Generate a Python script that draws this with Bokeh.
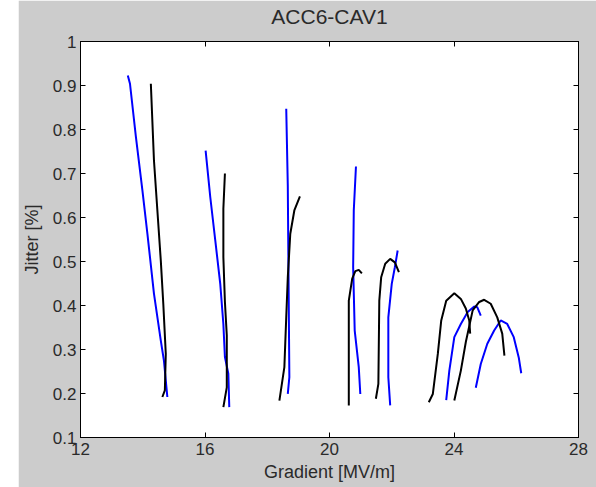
from bokeh.plotting import figure
from bokeh.models import Range1d, LinearAxis, FixedTicker, CustomLabelingPolicy, Spacer
from bokeh.layouts import row
from bokeh.embed import file_html
from bokeh.resources import INLINE

# ---- data ----
c1_blue_x = [13.52, 13.59, 13.78, 13.99, 14.15, 14.36, 14.58, 14.68, 14.79]
c1_blue_y = [0.923, 0.904, 0.783, 0.661, 0.563, 0.427, 0.320, 0.275, 0.192]
c1_black_x = [14.26, 14.36, 14.47, 14.58, 14.66, 14.74, 14.71, 14.63]
c1_black_y = [0.904, 0.730, 0.616, 0.502, 0.404, 0.290, 0.207, 0.192]

c2_blue_x = [16.02, 16.17, 16.33, 16.49, 16.59, 16.64, 16.75, 16.78]
c2_blue_y = [0.752, 0.646, 0.548, 0.449, 0.358, 0.283, 0.245, 0.169]
c2_black_x = [16.59, 16.70, 16.70, 16.64, 16.59, 16.59, 16.64]
c2_black_y = [0.169, 0.214, 0.332, 0.408, 0.510, 0.620, 0.700]

c3_blue_x = [18.61, 18.66, 18.69, 18.71, 18.66]
c3_blue_y = [0.847, 0.673, 0.411, 0.237, 0.199]
c3_black_x = [18.39, 18.55, 18.61, 18.66, 18.74, 18.87, 19.05]
c3_black_y = [0.184, 0.260, 0.373, 0.464, 0.563, 0.616, 0.648]

c4_blue_x = [20.85, 20.78, 20.76, 20.81, 20.94, 20.99]
c4_blue_y = [0.716, 0.616, 0.487, 0.343, 0.260, 0.199]
c4_black_x = [20.62, 20.62, 20.62, 20.67, 20.73, 20.83, 20.94, 21.04]
c4_black_y = [0.173, 0.282, 0.411, 0.434, 0.461, 0.478, 0.481, 0.473]

c5_black_x = [21.49, 21.57, 21.60, 21.66, 21.79, 21.95, 22.10, 22.23]
c5_black_y = [0.188, 0.222, 0.411, 0.464, 0.495, 0.506, 0.498, 0.476]
c5_blue_x = [21.95, 21.89, 21.89, 22.00, 22.10, 22.19]
c5_blue_y = [0.173, 0.237, 0.373, 0.449, 0.487, 0.525]

c6_black_x = [23.19, 23.32, 23.48, 23.59, 23.75, 24.01, 24.22, 24.38, 24.49, 24.52]
c6_black_y = [0.180, 0.199, 0.290, 0.366, 0.411, 0.428, 0.415, 0.393, 0.366, 0.336]
c6_blue_x = [23.75, 23.85, 24.01, 24.22, 24.44, 24.65, 24.75, 24.86]
c6_blue_y = [0.185, 0.252, 0.328, 0.358, 0.385, 0.398, 0.396, 0.377]

c7_black_x = [24.01, 24.22, 24.38, 24.60, 24.81, 24.97, 25.18, 25.39, 25.55, 25.62]
c7_black_y = [0.184, 0.252, 0.317, 0.389, 0.408, 0.413, 0.404, 0.373, 0.336, 0.286]
c7_blue_x = [24.70, 24.86, 25.07, 25.29, 25.50, 25.71, 25.92, 26.08, 26.16]
c7_blue_y = [0.213, 0.267, 0.313, 0.343, 0.366, 0.358, 0.328, 0.282, 0.246]

x_ticks = [12, 16, 20, 24, 28]
x_tick_labels = ["12", "16", "20", "24", "28"]
y_ticks = [0.1, 0.2, 0.3, 0.4, 0.5, 0.6, 0.7, 0.8, 0.9, 1.0]
y_tick_labels = ["0.1", "0.2", "0.3", "0.4", "0.5", "0.6", "0.7", "0.8", "0.9", "1"]

blue_series = [(c1_blue_x, c1_blue_y), (c2_blue_x, c2_blue_y), (c3_blue_x, c3_blue_y),
               (c4_blue_x, c4_blue_y), (c5_blue_x, c5_blue_y), (c6_blue_x, c6_blue_y),
               (c7_blue_x, c7_blue_y)]
black_series = [(c1_black_x, c1_black_y), (c2_black_x, c2_black_y), (c3_black_x, c3_black_y),
                (c4_black_x, c4_black_y), (c5_black_x, c5_black_y), (c6_black_x, c6_black_y),
                (c7_black_x, c7_black_y)]

FONT = "Liberation Sans"
TXT = "#2a2a2a"
BG = "#cccccc"

p = figure(width=578, height=487, output_backend="svg", toolbar_location=None,
           x_range=Range1d(12, 28), y_range=Range1d(0.1, 1.0),
           min_border_left=61, min_border_right=14, min_border_top=41, min_border_bottom=50)
p.border_fill_color = BG
p.background_fill_color = "white"
p.outline_line_color = "black"
p.outline_line_width = 1
p.grid.visible = False

p.title.text = "ACC6-CAV1"
p.title.align = "center"
p.title.text_font = FONT
p.title.text_font_size = "21px"
p.title.text_font_style = "normal"
p.title.text_color = TXT
p.title.standoff = 5

for ax, ticks, labels in ((p.xaxis[0], x_ticks, x_tick_labels), (p.yaxis[0], y_ticks, y_tick_labels)):
    ax.ticker = FixedTicker(ticks=ticks)
    ax.major_label_overrides = {t: l for t, l in zip(ticks, labels)}
    ax.major_tick_in = 5
    ax.major_tick_out = 0
    ax.minor_tick_line_color = None
    ax.axis_line_color = "black"
    ax.major_tick_line_color = "black"
    ax.major_label_text_font = FONT
    ax.major_label_text_font_size = "17px"
    ax.major_label_text_color = TXT
    ax.axis_label_text_font = FONT
    ax.axis_label_text_font_size = "18px"
    ax.axis_label_text_font_style = "normal"
    ax.axis_label_text_color = TXT

p.xaxis.axis_label = "Gradient [MV/m]"
p.yaxis.axis_label = "Jitter [%]"
p.xaxis.major_label_standoff = 5
p.xaxis.axis_label_standoff = 4
p.yaxis.major_label_standoff = 4
p.yaxis.axis_label_standoff = 8

no_labels = CustomLabelingPolicy(code="for (const i of indices) { indices.unset(i) }\nreturn indices")
for loc, ticks in (("above", x_ticks), ("right", y_ticks)):
    a = LinearAxis(ticker=FixedTicker(ticks=ticks), major_tick_in=5, major_tick_out=0,
                   minor_tick_line_color=None, major_label_policy=no_labels,
                   major_label_standoff=0, axis_label_standoff=0,
                   axis_line_color="black", major_tick_line_color="black")
    p.add_layout(a, loc)

for xs, ys in blue_series:
    p.line(xs, ys, line_color="#0000ff", line_width=2)
for xs, ys in black_series:
    p.line(xs, ys, line_color="black", line_width=2)

layout = row(Spacer(width=18, height=487), p)
open("out.html", "w").write(file_html(layout, INLINE))
